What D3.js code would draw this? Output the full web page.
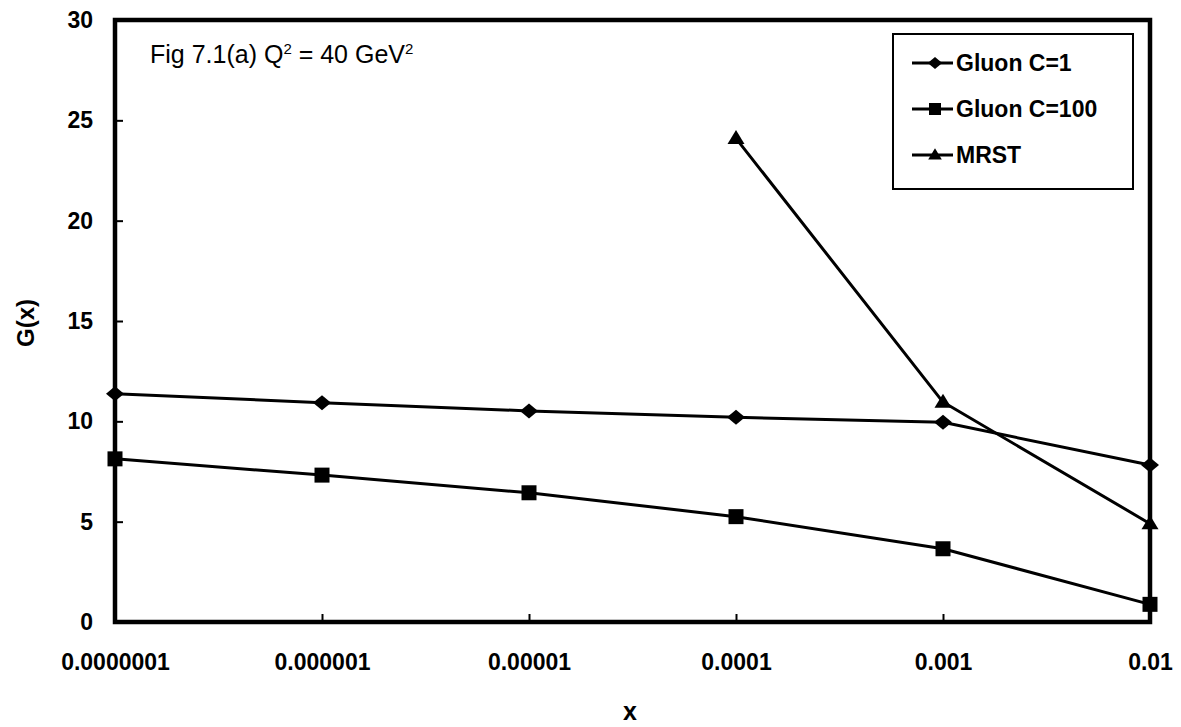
<!DOCTYPE html>
<html>
<head>
<meta charset="utf-8">
<script src="https://cdn.jsdelivr.net/npm/d3@7"></script>
<style>
  html, body { margin: 0; padding: 0; background: #fff; }
  svg { display: block; }
  text { font-family: "Liberation Sans", Arial, sans-serif; fill: #000; }
</style>
</head>
<body>
<svg id="chart" width="1181" height="727"></svg>
<script>
const categories = ["0.0000001", "0.000001", "0.00001", "0.0001", "0.001", "0.01"];
const gluonC1 = [11.38, 10.93, 10.52, 10.2, 9.95, 7.82];
const gluonC100 = [8.13, 7.32, 6.44, 5.25, 3.65, 0.88];
const mrst = [null, null, null, 24.1, 10.96, 4.9];
const yTicks = [0, 5, 10, 15, 20, 25, 30];
const seriesNames = ["Gluon C=1", "Gluon C=100", "MRST"];

const diamond = { draw(ctx, s) { const w = 9, h = 7.5; ctx.moveTo(0, -h); ctx.lineTo(w, 0); ctx.lineTo(0, h); ctx.lineTo(-w, 0); ctx.closePath(); } };
const square = { draw(ctx, s) { const r = 7.5; ctx.rect(-r, -r, 2 * r, 2 * r); } };
const triangle = { draw(ctx, s) { const w = 8.5, h = 14; ctx.moveTo(0, -h * 0.6); ctx.lineTo(w, h * 0.4); ctx.lineTo(-w, h * 0.4); ctx.closePath(); } };
const seriesSymbols = [diamond, square, triangle];

const svg = d3.select("#chart");
const m = { left: 115, right: 1150, top: 20, bottom: 622 };

const x = d3.scalePoint().domain(categories).range([m.left, m.right]);
const y = d3.scaleLinear().domain([0, 30]).range([m.bottom, m.top]);

// Y axis
const yAxis = svg.append("g").attr("transform", `translate(${m.left},0)`)
  .call(d3.axisLeft(y).tickValues(yTicks).tickSizeInner(-8).tickSizeOuter(0).tickPadding(22));
yAxis.select(".domain").remove();
yAxis.selectAll("line").attr("stroke", "#000").attr("stroke-width", 2);
yAxis.selectAll("text").attr("font-size", 23).attr("font-weight", "bold").attr("fill", "#000");

// X axis
const xAxis = svg.append("g").attr("transform", `translate(0,${m.bottom})`)
  .call(d3.axisBottom(x).tickSizeInner(-8).tickSizeOuter(0));
xAxis.select(".domain").remove();
xAxis.selectAll("line").attr("stroke", "#000").attr("stroke-width", 2);
xAxis.selectAll("text").attr("y", 48).attr("dy", null)
  .attr("font-size", 23).attr("font-weight", "bold").attr("fill", "#000");

// Frame
svg.append("rect")
  .attr("x", m.left).attr("y", m.top)
  .attr("width", m.right - m.left).attr("height", m.bottom - m.top)
  .attr("fill", "none").attr("stroke", "#000").attr("stroke-width", 4.5);

// Axis titles
svg.append("text").attr("x", 630).attr("y", 720)
  .attr("text-anchor", "middle").attr("font-size", 25).attr("font-weight", "bold").text("x");
svg.append("text").attr("transform", `translate(34,323) rotate(-90)`)
  .attr("text-anchor", "middle").attr("font-size", 24).attr("font-weight", "bold").text("G(x)");

// Title
const title = svg.append("text").attr("x", 150).attr("y", 63).attr("font-size", 25);
title.append("tspan").text("Fig 7.1(a)  Q");
title.append("tspan").attr("dy", -9).attr("font-size", 15).text("2");
title.append("tspan").attr("dy", 9).text(" = 40 GeV");
title.append("tspan").attr("dy", -9).attr("font-size", 15).text("2");

// Series
const allSeries = [gluonC1, gluonC100, mrst];
const line = d3.line()
  .defined(d => d != null)
  .x((d, i) => x(categories[i]))
  .y(d => y(d));

allSeries.forEach((vals, si) => {
  svg.append("path").datum(vals)
    .attr("d", line)
    .attr("fill", "none").attr("stroke", "#000").attr("stroke-width", 3).attr("stroke-linejoin", "round");
  svg.append("g").selectAll("path")
    .data(vals.map((v, i) => ({ v, i })).filter(d => d.v != null))
    .join("path")
    .attr("transform", d => `translate(${x(categories[d.i])},${y(d.v)})`)
    .attr("d", d3.symbol().type(seriesSymbols[si]))
    .attr("fill", "#000");
});

// Legend
const lg = svg.append("g");
lg.append("rect").attr("x", 893).attr("y", 34).attr("width", 240).attr("height", 155)
  .attr("fill", "#fff").attr("stroke", "#000").attr("stroke-width", 2);
const rowY = [63, 109, 155];
seriesNames.forEach((name, i) => {
  const g = lg.append("g").attr("transform", `translate(0,${rowY[i]})`);
  g.append("line").attr("x1", 912).attr("x2", 953).attr("y1", 0).attr("y2", 0)
    .attr("stroke", "#000").attr("stroke-width", 3);
  g.append("path").attr("transform", "translate(935,0) scale(0.8)")
    .attr("d", d3.symbol().type(seriesSymbols[i]))
    .attr("fill", "#000");
  g.append("text").attr("x", 956).attr("y", 8).attr("font-size", 23).attr("font-weight", "bold").text(name);
});
</script>
</body>
</html>
